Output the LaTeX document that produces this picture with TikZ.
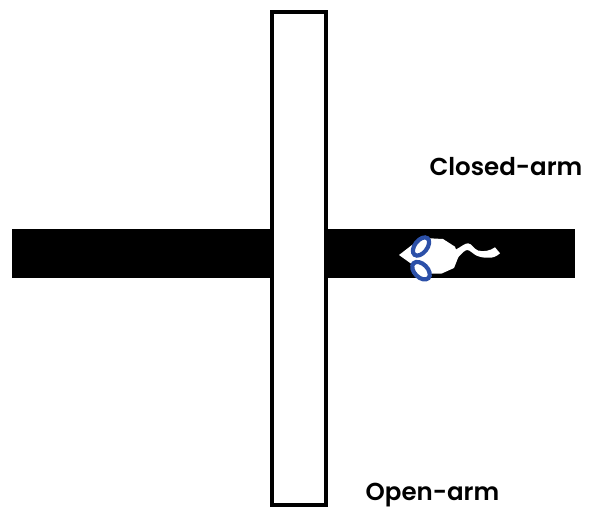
\documentclass[tikz,border=0pt]{standalone}
\usepackage{fontspec}
\setmainfont{Poppins}[BoldFont={Poppins SemiBold}]
\definecolor{earblue}{HTML}{2C50A8}
\tikzset{
  armlabel/.style={inner sep=0pt,anchor=base,font=\fontsize{24.5}{28}\selectfont\bfseries,text=black},
  openarm/.style={draw=black,fill=white,line width=4pt},
  closedarm/.style={fill=black,draw=none},
  ear/.style={draw=earblue,line width=4.2pt,fill=white}
}
\begin{document}
\begin{tikzpicture}[x=1pt,y=-1pt]
\useasboundingbox (0,0) rectangle (596,512);
% maze arms
\fill[closedarm] (12,229) rectangle (575,278);
\draw[openarm] (271.5,12) rectangle (326,505);
% mouse body and tail
\fill[white] (399,255) -- (412,245) -- (430,238.3) -- (443,239) -- (455,246.7) -- (458.5,256.7)
  -- (454,268) -- (441.7,273.5) -- (430,273.5) -- (413,265) -- cycle;
\fill[white] (455,250) .. controls (461,247) and (465,243) .. (468.3,243.3)
  .. controls (472,244) and (474,249) .. (478,250.5)
  .. controls (483,252) and (490,251) .. (495,247.3)
  -- (500,253.3) .. controls (496,257) and (492,258) .. (488.3,257.7)
  .. controls (484,258) and (480,257) .. (476.7,255.7)
  .. controls (473,254) and (470,250) .. (467.3,250)
  .. controls (465,250) and (462,253) .. (458,257.5) -- cycle;
% ears
\draw[ear] (421,246.5) ellipse [x radius=10.5pt,y radius=6.2pt,rotate=52];
\draw[ear] (421,270.7) ellipse [x radius=10.5pt,y radius=6.6pt,rotate=-45];
% labels
\node[armlabel] (closed) at (506,175.5) {Closed-arm};
\node[armlabel] (open) at (432.5,500) {Open-arm};
\end{tikzpicture}
\end{document}
